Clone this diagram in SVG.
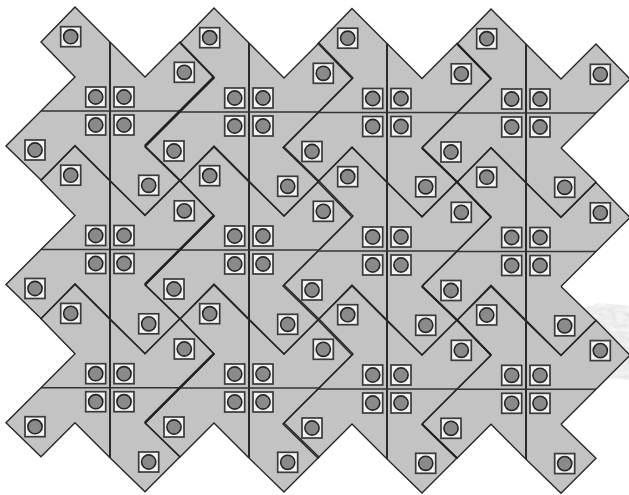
<svg xmlns="http://www.w3.org/2000/svg" width="629" height="495" viewBox="0 0 629 495">
<style>
.f{fill:#c3c3c3;stroke:none}
.l{fill:none;stroke:#262626;stroke-width:1.4;stroke-linejoin:miter}
.v{fill:none;stroke:#2a2a2a;stroke-width:2}
.h{fill:none;stroke:#333;stroke-width:1.6}
.t{fill:none;stroke:#222;stroke-width:2.5}
.t2{fill:none;stroke:#222;stroke-width:2}
.s{fill:#f3f3f3;stroke:#3a3a3a;stroke-width:1.7}
.c{fill:#8a8a8a;stroke:#262626;stroke-width:1.6}
</style>
<defs>
<filter id="grain" x="0" y="0" width="100%" height="100%"><feTurbulence type="fractalNoise" baseFrequency="0.12 0.25" numOctaves="3" seed="4" result="n"/><feColorMatrix in="n" type="matrix" values="0 0 0 0 0.76  0 0 0 0 0.76  0 0 0 0 0.76  1 0 0 0 0.1"/><feComposite in2="SourceAlpha" operator="in"/><feGaussianBlur stdDeviation="0.6"/></filter>
<path id="shape" d="M0 0V-69L-35-104-69-69-35-34-69 0H0ZM0 0V-69L35-34 70-69 104-34 70 0H0ZM0 0H-69L-104 35-69 69-35 35 0 70V0ZM0 0V69L35 104 70 69 35 35 70 0H0Z"/>
<g id="lines">
<path class="l" d="M0-69L-35-104-69-69-35-34-69 0M0-69L35-34 70-69 104-34 70 0 35 35M-69 0L-104 35-69 69-35 35 0 70 35 104 70 69 35 35"/>
<path class="v" d="M0-69V70"/>
<path class="h" d="M-69 0H70"/>
</g>
<g id="m"><rect class="s" x="-10" y="-10" width="20" height="20"/><circle class="c" r="7.1"/></g>
<g id="eight"><use href="#m" x="-14.3" y="-14"/><use href="#m" x="14" y="-14"/><use href="#m" x="-14.3" y="14"/><use href="#m" x="14" y="14"/><use href="#m" x="-39.3" y="-74.3"/><use href="#m" x="74.3" y="-38.7"/><use href="#m" x="-75" y="39"/><use href="#m" x="38.7" y="74.3"/></g>
</defs>
<rect width="629" height="495" fill="#fff"/>
<path id="background-smudge" d="M582 308L600 303 629 306V380L604 378 590 340Z" fill="#000" filter="url(#grain)"/>
<g id="fills">
<use href="#shape" class="f" x="110" y="111"/><use href="#shape" class="f" x="249" y="112"/><use href="#shape" class="f" x="387" y="112.5"/><use href="#shape" class="f" x="526" y="113"/>
<use href="#shape" class="f" x="110" y="249.5"/><use href="#shape" class="f" x="249" y="250"/><use href="#shape" class="f" x="387" y="251"/><use href="#shape" class="f" x="526" y="251.5"/>
<use href="#shape" class="f" x="110" y="387.7"/><use href="#shape" class="f" x="249" y="388"/><use href="#shape" class="f" x="387" y="389"/><use href="#shape" class="f" x="526" y="389.3"/>
</g>
<g id="outlines">
<use href="#lines" x="110" y="111"/><use href="#lines" x="249" y="112"/><use href="#lines" x="387" y="112.5"/><use href="#lines" x="526" y="113"/>
<use href="#lines" x="110" y="249.5"/><use href="#lines" x="249" y="250"/><use href="#lines" x="387" y="251"/><use href="#lines" x="526" y="251.5"/>
<use href="#lines" x="110" y="387.7"/><use href="#lines" x="249" y="388"/><use href="#lines" x="387" y="389"/><use href="#lines" x="526" y="389.3"/>
<path class="t" d="M214 77L145 146M214 215.5L145 284.5M214 353.7L145 422.7"/>
<path class="t2" d="M457 43.5L491 78.5M422 148L457 182 491 217M422 286.5L457 320 491 355M422 424.3L457 458.3"/>
</g>
<g id="unit-marks">
<use id="t00" href="#eight" x="110" y="111"/><use id="t01" href="#eight" x="249" y="112"/><use id="t02" href="#eight" x="387" y="112.5"/><use id="t03" href="#eight" x="526" y="113"/>
<use id="t10" href="#eight" x="110" y="249.5"/><use id="t11" href="#eight" x="249" y="250"/><use id="t12" href="#eight" x="387" y="251"/><use id="t13" href="#eight" x="526" y="251.5"/>
<use id="t20" href="#eight" x="110" y="387.7"/><use id="t21" href="#eight" x="249" y="388"/><use id="t22" href="#eight" x="387" y="389"/><use id="t23" href="#eight" x="526" y="389.3"/>
</g>
</svg>
